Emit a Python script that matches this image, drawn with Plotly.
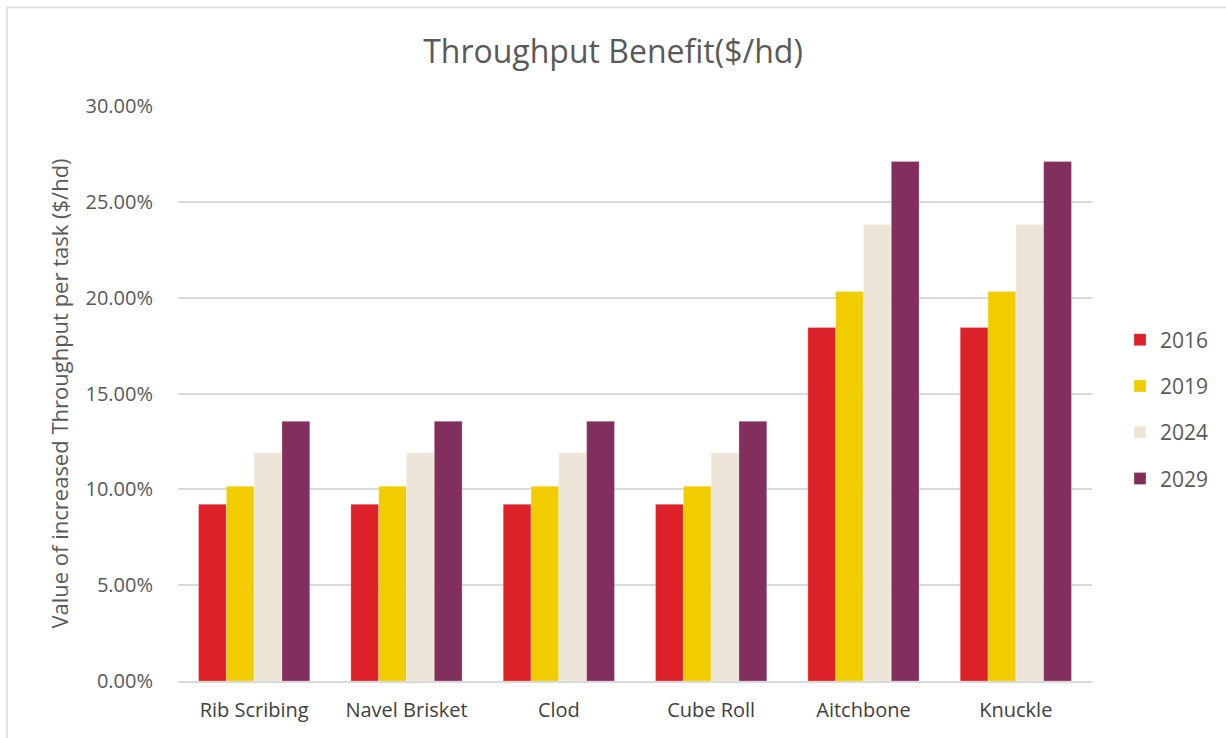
import plotly.graph_objects as go

categories = ["Rib Scribing", "Navel Brisket", "Clod", "Cube Roll", "Aitchbone", "Knuckle"]
years = ["2016", "2019", "2024", "2029"]
v2016 = [0.0922, 0.0922, 0.0922, 0.0922, 0.1844, 0.1844]
v2019 = [0.1016, 0.1016, 0.1016, 0.1016, 0.2032, 0.2032]
v2024 = [0.1191, 0.1191, 0.1191, 0.1191, 0.2382, 0.2382]
v2029 = [0.1355, 0.1355, 0.1355, 0.1355, 0.2710, 0.2710]
series = [v2016, v2019, v2024, v2029]
colors = ["#DC2129", "#F0CC00", "#EDE6D8", "#822F5E"]

FONT = "Open Sans, Calibri, Carlito, sans-serif"
TXT = "#595959"

fig = go.Figure()
for i, (name, vals, col) in enumerate(zip(years, series, colors)):
    fig.add_trace(go.Bar(
        x=categories, y=vals, name=name, legendgroup=name,
        marker=dict(color=col, line=dict(color="rgba(255,255,255,0.5)", width=0.5)),
    ))

W, H = 1226, 738
L, R, T, B = 178, 1092, 106, 681

def px2x(px):
    return (px - L) / (R - L)

def py2y(py):
    return (B - py) / (B - T)

fig.update_layout(
    width=W, height=H,
    margin=dict(l=L, r=W - R, t=T, b=H - B, autoexpand=False),
    paper_bgcolor="white", plot_bgcolor="white",
    barmode="group", bargap=0.27, bargroupgap=0,
    font=dict(family=FONT, color=TXT),
    title=dict(text="Throughput Benefit($/hd)", x=0.5, xref="container", xanchor="center",
               y=1 - 52 / H, yref="container", yanchor="middle",
               font=dict(size=32, color=TXT, family=FONT)),
    xaxis=dict(showgrid=False, showline=True, linecolor="#d9d9d9", linewidth=1.5,
               ticks="", ticklabelstandoff=10,
               tickfont=dict(size=20, color="#404040", family=FONT)),
    yaxis=dict(range=[0, 0.30], dtick=0.05, tickformat=".2%", showgrid=True,
               gridcolor="#d9d9d9", gridwidth=1.5, zeroline=False, ticks="",
               ticklabelstandoff=24,
               tickfont=dict(size=20, color=TXT, family=FONT),
               title=dict(text="Value of increased Throughput per task ($/hd)",
                          font=dict(size=22, color=TXT, family=FONT), standoff=10)),
    legend=dict(x=px2x(1120), y=py2y(409.5), xanchor="left", yanchor="middle",
                font=dict(size=21, color=TXT, family=FONT),
                tracegroupgap=16, itemwidth=30, bgcolor="rgba(0,0,0,0)"),
    showlegend=True,
)

fig.add_shape(type="line", xref="paper", yref="paper",
              x0=px2x(7), x1=px2x(1230), y0=py2y(7.5), y1=py2y(7.5),
              line=dict(color="#d9d9d9", width=1.5))
fig.add_shape(type="line", xref="paper", yref="paper",
              x0=px2x(7), x1=px2x(7), y0=py2y(7.5), y1=py2y(745),
              line=dict(color="#d9d9d9", width=1.5))

fig.write_html("out.html")
